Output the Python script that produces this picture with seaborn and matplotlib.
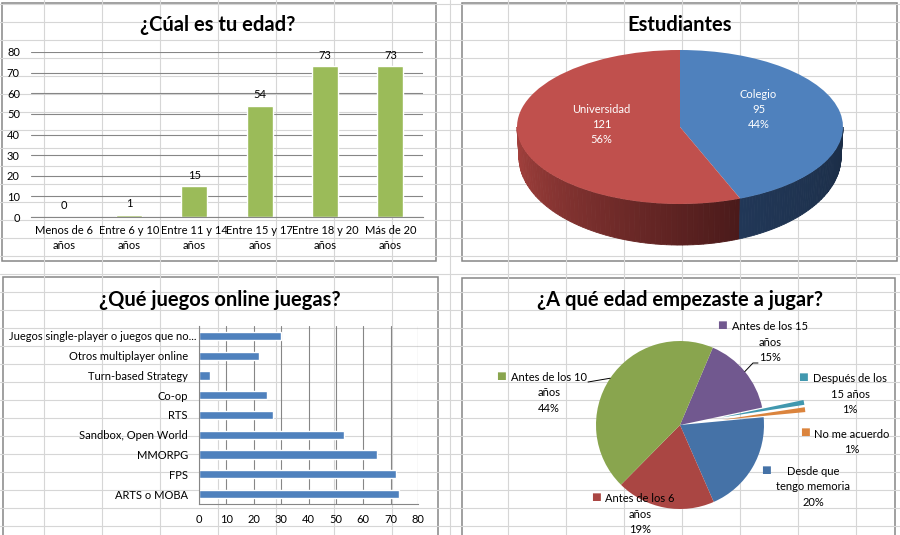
import matplotlib
matplotlib.use("Agg")
import matplotlib.pyplot as plt
from matplotlib.patches import Rectangle
from matplotlib.transforms import ScaledTranslation
import numpy as np
import seaborn as sns

# ---- data ----
edad_cats = ["Menos de 6\naños", "Entre 6 y 10\naños", "Entre 11 y 14\naños",
             "Entre 15 y 17\naños", "Entre 18 y 20\naños", "Más de 20\naños"]
edad_vals = [0, 1, 15, 54, 73, 73]

estud_cats = ["Colegio", "Universidad"]
estud_vals = [95, 121]

juegos_cats = ["Juegos single-player o juegos que no...", "Otros multiplayer online",
               "Turn-based Strategy", "Co-op", "RTS", "Sandbox, Open World",
               "MMORPG", "FPS", "ARTS o MOBA"]
juegos_vals = [30, 22, 4, 25, 27, 53, 65, 72, 73]

inicio_cats = ["Antes de los 15\naños", "Después de los\n15 años", "No me acuerdo",
               "Desde que\ntengo memoria", "Antes de los 6\naños", "Antes de los 10\naños"]
inicio_vals = [33, 2, 2, 43, 41, 95]
inicio_explode = [0, 0.5, 0.5, 0, 0, 0]

GREEN = "#9BBB59"
BLUE = "#4F81BD"
RED = "#C0504D"
AXIS = "#868686"
CELL = "#d6d6d6"
PIE4_COLORS = ["#71588F", "#4198AF", "#DB843D", "#4572A7", "#AA4643", "#89A54E"]
FS = 8          # tick / label text
FS_TITLE = 14.5
LS = 1.45       # line spacing of multi-line labels

sns.set_style("white")
plt.rcParams["font.family"] = ["Lato", "DejaVu Sans"]
plt.rcParams["text.color"] = "black"
plt.rcParams["xtick.color"] = "black"
plt.rcParams["ytick.color"] = "black"

W, H = 900, 535
fig = plt.figure(figsize=(9, 5.35), dpi=100)


def px_axes(x0, y0, x1, y1, z=2):
    ax = fig.add_axes([x0 / W, 1 - y1 / H, (x1 - x0) / W, (y1 - y0) / H], zorder=z)
    ax.patch.set_alpha(0)
    return ax


def title(x, y, s):
    fig.text(x / W, 1 - y / H, s, ha="center", va="center", fontsize=FS_TITLE,
             fontweight="bold", zorder=5)


# ---- spreadsheet background + chart frames ----
bg = fig.add_axes([0, 0, 1, 1], zorder=0)
bg.set_xlim(0, W)
bg.set_ylim(H, 0)
bg.axis("off")
for gx in np.arange(43.7, W, 58.05):
    bg.axvline(gx, color=CELL, lw=0.8)
for gy in np.arange(4, H, 18):
    bg.axhline(gy, color=CELL, lw=0.8)
for (x, y, w, h) in [(2, 3, 434, 258), (462, 3, 435, 258), (3, 277, 435, 270), (462, 278, 433, 270)]:
    bg.add_patch(Rectangle((x, y), w, h, facecolor="white", edgecolor=AXIS, lw=1.1))

# ---- 1: ¿Cúal es tu edad? ----
title(218, 25, "¿Cúal es tu edad?")
ax1 = px_axes(31, 52, 423, 217)
sns.barplot(x=edad_cats, y=edad_vals, color=GREEN, width=0.4, saturation=1,
            errorbar=None, ax=ax1)
ax1.set_ylim(0, 80)
ax1.set_yticks(range(0, 81, 10))
ax1.yaxis.grid(True, color=AXIS, lw=0.8)
ax1.set_axisbelow(True)
for s in ["left", "top", "right"]:
    ax1.spines[s].set_visible(False)
ax1.spines["bottom"].set_color(AXIS)
ax1.spines["bottom"].set_linewidth(0.8)
ax1.tick_params(axis="y", length=0, pad=8, labelsize=FS)
ax1.tick_params(axis="x", length=0, pad=5.5, labelsize=FS)
for lab in ax1.get_xticklabels():
    lab.set_linespacing(LS)
ax1.set_xticks(np.arange(-0.5, len(edad_cats), 1), minor=True)
ax1.tick_params(axis="x", which="minor", length=4, color=AXIS, width=0.8)
ax1.bar_label(ax1.containers[0], fontsize=FS, padding=4)
ax1.set_xlabel("")
ax1.set_ylabel("")

# ---- 2: Estudiantes (3D pie) ----
title(680, 25, "Estudiantes")
cx, cy, a_px, b_px = 680, 127, 163, 77
ax2 = px_axes(462, 3, 897, 261)
total2 = sum(estud_vals)
wedges2, _ = ax2.pie(estud_vals, colors=[BLUE, RED], startangle=90, counterclock=False,
                     wedgeprops=dict(linewidth=0, zorder=3))
ax2.set_aspect("auto")
ax2.set_xlim((462 - cx) / a_px, (897 - cx) / a_px)
ax2.set_ylim((cy - 261) / b_px, (cy - 3) / b_px)

# side wall (bottom ellipse drawn with slight perspective)
a2, b2, c2 = 0.988, 1.143, -0.39
split = 90 - 360 * estud_vals[0] / total2


def side_color(t, lo, hi, t0, t1):
    f = (t - t0) / (t1 - t0)
    lo = np.array(matplotlib.colors.to_rgb(lo))
    hi = np.array(matplotlib.colors.to_rgb(hi))
    return tuple(lo + (hi - lo) * f)


for (t0, t1, c_lo, c_hi) in [(-180, split, "#A8433F", "#4A1A1A"),
                             (split, 0, "#213757", "#1B2D46")]:
    edges = np.linspace(t0, t1, 60)
    for ta, tb in zip(edges[:-1], edges[1:]):
        tt = np.radians(np.linspace(ta, tb, 4))
        xs = np.concatenate([np.cos(tt), a2 * np.cos(tt[::-1])])
        ys = np.concatenate([np.sin(tt), c2 + b2 * np.sin(tt[::-1])])
        col = side_color((ta + tb) / 2, c_lo, c_hi, t0, t1)
        ax2.fill(xs, ys, color=col, lw=0.6, ec=col, zorder=1)

for w, cat, v in zip(wedges2, estud_cats, estud_vals):
    mid = np.radians((w.theta1 + w.theta2) / 2)
    ax2.text(0.49 * np.cos(mid), 0.49 * np.sin(mid) + 0.13,
             f"{cat}\n{v}\n{round(100 * v / total2)}%", color="white",
             ha="center", va="center", fontsize=FS, linespacing=LS, zorder=4)
ax2.axis("off")

# ---- 3: ¿Qué juegos online juegas? ----
title(220, 300, "¿Qué juegos online juegas?")
ax3 = px_axes(199, 326, 418, 504)
sns.barplot(x=juegos_vals, y=juegos_cats, orient="h", color=BLUE, width=0.42,
            saturation=1, errorbar=None, ax=ax3)
ax3.set_xlim(0, 80)
ax3.set_xticks(range(0, 81, 10))
ax3.xaxis.grid(True, color=AXIS, lw=0.8)
ax3.set_axisbelow(True)
for s in ["top", "right"]:
    ax3.spines[s].set_visible(False)
for s in ["left", "bottom"]:
    ax3.spines[s].set_color(AXIS)
    ax3.spines[s].set_linewidth(0.8)
ax3.tick_params(axis="y", length=0, pad=8, labelsize=FS)
ax3.tick_params(axis="x", length=4, color=AXIS, width=0.8, pad=3.5, labelsize=FS)
ax3.set_yticks(np.arange(-0.5, len(juegos_cats), 1), minor=True)
ax3.tick_params(axis="y", which="minor", length=4, color=AXIS, width=0.8)
ax3.set_xlabel("")
ax3.set_ylabel("")
# the truncated label sits a little closer to the axis, as in Excel
lab0 = ax3.get_yticklabels()[0]
lab0.set_transform(lab0.get_transform() + ScaledTranslation(6 / 72, 0, fig.dpi_scale_trans))

# ---- 4: ¿A qué edad empezaste a jugar? ----
title(680, 300, "¿A qué edad empezaste a jugar?")
pcx, pcy, r_px = 680, 425, 84
ax4 = px_axes(462, 278, 895, 535)
wedges4, _ = ax4.pie(inicio_vals, colors=PIE4_COLORS, startangle=67, counterclock=False,
                     explode=inicio_explode, wedgeprops=dict(linewidth=0))
ax4.set_aspect("auto")
ax4.set_xlim((462 - pcx) / r_px, (895 - pcx) / r_px)
ax4.set_ylim((pcy - 535) / r_px, (pcy - 278) / r_px)
ax4.axis("off")

total4 = sum(inicio_vals)
label_px = [(770, 342), (850, 394), (852, 442), (813, 487), (640, 514), (549, 393)]
for cat, v, col, (lx, ly) in zip(inicio_cats, inicio_vals, PIE4_COLORS, label_px):
    t = ax4.text((lx - pcx) / r_px, (pcy - ly) / r_px,
                 f"{cat}\n{round(100 * v / total4)}%", ha="center", va="center",
                 fontsize=FS, linespacing=LS)
    ax4.annotate("■", xy=(0, 1), xycoords=t, xytext=(-3.5, 0.5), textcoords="offset points",
                 ha="right", va="top", color=col, fontsize=7.5)

# leader lines (purple and green labels)
leaders = {0: [(753, 363), (758, 363)], 5: [(588, 382)]}
for i, pts in leaders.items():
    w = wedges4[i]
    mid = np.radians((w.theta1 + w.theta2) / 2)
    xs = [np.cos(mid)] + [(px - pcx) / r_px for px, _ in pts]
    ys = [np.sin(mid)] + [(pcy - py) / r_px for _, py in pts]
    ax4.plot(xs, ys, color="black", lw=0.7)

fig.savefig("out.png", dpi=100)
